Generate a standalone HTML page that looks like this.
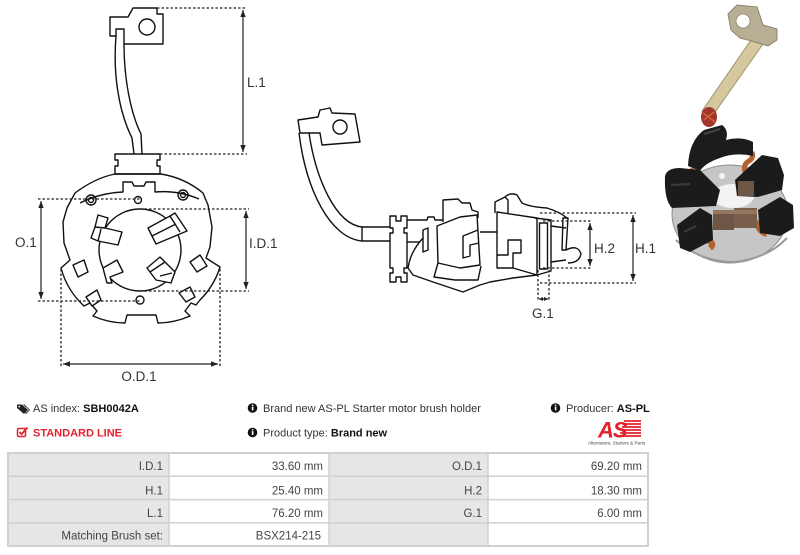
<!DOCTYPE html>
<html><head><meta charset="utf-8"><style>
html,body{margin:0;padding:0;background:#fff;}
body{width:800px;height:555px;overflow:hidden;position:relative;font-family:"Liberation Sans",Arial,sans-serif;}
svg{position:absolute;left:0;top:0;}
</style></head><body>
<svg width="800" height="555" viewBox="0 0 800 555" xmlns="http://www.w3.org/2000/svg">
<defs>
<marker id="ar" markerUnits="userSpaceOnUse" markerWidth="8" markerHeight="6" refX="7" refY="3" orient="auto-start-reverse"><path d="M0,0.3 L7,3 L0,5.7 Z" fill="#222"/></marker>
</defs>

<!-- ================= LEFT DRAWING ================= -->
<g fill="none" stroke="#111" stroke-width="1.4" stroke-linejoin="round">
<path d="M110,17 L128,17 L133,8 L157,8 L157,14 L163,14 L163,44 L124,44 L124,29 L116,29 L116,36 L110,36 Z" fill="#fff"/>
<circle cx="147" cy="27" r="8"/>
<path d="M116,36 C113,72 118,110 132,138 L134,154"/>
<path d="M124,44 C124,80 131,114 141,134 L142,154"/>
<path d="M115,154 H160 V160 H157 V166 H160 V174 H115 V166 H118 V160 H115 Z" fill="#fff"/>
<path d="M115,174 L161,174 Q185,178 203,193 L208,205 L212,227 L210,247 L206,258 L220,267 A80,80 0 0 1 200,300 L196,305 L191,303 L185,311 L190,316 A80,80 0 0 1 158,323 L156,315 L127,315 L125,323 A80,80 0 0 1 93,316 L97,311 L90,303 L84,306 A80,80 0 0 1 61,268 L70,260 L64,243 L63,222 L67,208 L75,193 Q95,178 115,174 Z"/>
<path d="M80,203 Q100,193 123,192 V182 H132 L134,186 H144 L146,182 H155 V192 Q178,190 199,199"/>
<circle cx="91" cy="200" r="5"/><circle cx="91" cy="200" r="2.5"/>
<circle cx="183" cy="195" r="5"/><circle cx="183" cy="195" r="2.5"/>
<circle cx="138" cy="200" r="3.5"/>
<circle cx="140" cy="300" r="4"/>
<circle cx="140" cy="250" r="41"/>
<path d="M98,215 L108,218 L105,228 L122,232 L118,245 L98,241 L91,238 L95,227 Z" fill="#fff"/>
<path d="M95,227 L105,228 M101,229 L98,241"/>
<path d="M148,228 L170,216 L175,213 L187,231 L156,244 Z" fill="#fff"/>
<path d="M152,236 L176,224 M170,216 L180,232"/>
<path d="M103,268 L117,260 L123,272 L110,277 L112,283 L107,283 Z" fill="#fff"/>
<path d="M147,268 L160,257 L175,272 L171,283 L156,280 Z" fill="#fff"/>
<path d="M150,272 L165,262 M160,276 L172,273"/>
<path d="M73,265 L84,260 L88,272 L78,277 Z" fill="#fff"/>
<path d="M190,262 L200,255 L207,266 L197,272 Z" fill="#fff"/>
<path d="M86,297 L97,290 L101,300 L92,306 Z" fill="#fff"/>
<path d="M179,293 L190,287 L195,297 L186,302 Z" fill="#fff"/>
</g>
<!-- left dims -->
<g stroke="#222" stroke-width="1.3" stroke-dasharray="2.5 2" fill="none">
<path d="M157,8 H247 M160,154 H247"/>
<path d="M38,199 H140 M38,301 H140"/>
<path d="M140,209 H249 M140,291 H249"/>
<path d="M61,269 V367 M220,269 V367"/>
</g>
<g stroke="#222" stroke-width="1.2" fill="none">
<path d="M243,10 V152" marker-start="url(#ar)" marker-end="url(#ar)"/>
<path d="M41,201 V299" marker-start="url(#ar)" marker-end="url(#ar)"/>
<path d="M246,211 V289" marker-start="url(#ar)" marker-end="url(#ar)"/>
<path d="M63,364 H218" marker-start="url(#ar)" marker-end="url(#ar)"/>
</g>
<g font-family="Liberation Sans, Arial, sans-serif" font-size="13.5" fill="#333">
<text x="247" y="87">L.1</text>
<text x="15" y="247">O.1</text>
<text x="249" y="248">I.D.1</text>
<text x="139" y="381" text-anchor="middle">O.D.1</text>
</g>

<!-- ================= MIDDLE DRAWING ================= -->
<g fill="none" stroke="#111" stroke-width="1.4" stroke-linejoin="round">
<path d="M298,120 L318,117 L320,110 L330,108 L332,113 L355,114 L360,142 L322,145 L320,133 L300,133 Z" fill="#fff"/>
<circle cx="340" cy="127" r="7"/>
<path d="M299,133 C306,190 330,238 362,241"/>
<path d="M309,133 C316,180 336,224 362,227"/>
<path d="M362,227 H390 M362,241 H390 M362,227 V241"/>
<path d="M390,216 H396 V221 H401 V216 H407 V228 H404 V233 H407 V268 H404 V273 H407 V282 H401 V277 H396 V282 H390 V273 H393 V268 H390 V233 H393 V228 H390 Z" fill="#fff"/>
<path d="M407,220 L427,220 L428,217 L434,217 L435,220 L443,220"/>
<path d="M407,242 L420,242"/>
<path d="M423,238 Q412,250 409,263 L408,268 L413,275 L433,282 L463,292 L480,285 L490,282 L513,278 L537,275"/>
<path d="M423,230 L428,228 L428,250 L423,252 Z"/>
<path d="M443,222 V200 L458,199 L462,203 L470,203 L472,210 L478,212 V218"/>
<path d="M437,226 L460,217 L477,215 L480,265 L460,268 L438,263 Z" fill="#fff"/>
<path d="M478,230 L463,236 V258 L470,256 V245 L479,243"/>
<path d="M438,263 L434,277 L455,280 L478,280 L481,266"/>
<path d="M480,232 H497"/>
<path d="M495,213 V202 L505,197 L508,200 V213"/>
<path d="M505,197 Q510,192 517,195 L522,203 Q530,207 547,208 Q560,212 567,218"/>
<path d="M497,212 L537,218 L537,275 L513,268 L513,253 L521,253 L521,240 L508,240 L508,255 L497,255 Z" fill="#fff"/>
<path d="M497,255 L497,268 L513,268"/>
<path d="M535,218 L551,220 L551,271 L537,275"/>
<rect x="539.5" y="223" width="8" height="46"/>
<path d="M551,226 L566,228 M551,262 L566,260"/>
<path d="M563,218 L568,218 L566,250 L562,250 Z"/>
<path d="M566,250 Q578,244 581,254 Q579,263 568,263"/>
</g>
<g stroke="#222" stroke-width="1.3" stroke-dasharray="2.5 2" fill="none">
<path d="M540,213 H636 M540,283 H636"/>
<path d="M543,221 H592 M543,268 H592"/>
<path d="M538,270 V301 M549,270 V301"/>
</g>
<g stroke="#222" stroke-width="1.2" fill="none">
<path d="M633,215 V281" marker-start="url(#ar)" marker-end="url(#ar)"/>
<path d="M590,223 V266" marker-start="url(#ar)" marker-end="url(#ar)"/>
<path d="M539,299 H548"/>
</g>
<path d="M539,299 L543,297 L543,301 Z M548,299 L544,297 L544,301 Z" fill="#222"/>
<g font-family="Liberation Sans, Arial, sans-serif" font-size="13.5" fill="#333">
<text x="594" y="253">H.2</text>
<text x="635" y="253">H.1</text>
<text x="532" y="318">G.1</text>
</g>

<!-- ================= PHOTO ================= -->
<g>
<ellipse cx="730" cy="214" rx="58" ry="49" fill="#c6c6c6" stroke="#8c8c8c" stroke-width="1"/>
<ellipse cx="733" cy="196" rx="21" ry="12" fill="#f3f3f3"/>
<circle cx="722" cy="176" r="3" fill="#f3f3f3"/>
<path d="M676,240 Q700,262 735,262 Q768,258 787,238" fill="none" stroke="#9a9a9a" stroke-width="2"/>
<!-- copper wires -->
<path d="M705,223 q6,4 2,9 q-5,5 2,9 q6,3 1,7" fill="none" stroke="#b4622e" stroke-width="6"/>
<path d="M748,218 q8,2 10,8 q2,6 9,8" fill="none" stroke="#b4622e" stroke-width="6"/>
<path d="M745,172 q-2,-8 4,-11 q5,-3 3,-9" fill="none" stroke="#b4622e" stroke-width="5"/>
<path d="M690,170 q8,2 10,7 q2,4 7,6" fill="none" stroke="#b4622e" stroke-width="5"/>
<!-- brushes -->
<rect x="713" y="210" width="21" height="20" fill="#6e5646"/>
<rect x="734" y="208" width="23" height="20" fill="#7a5e4c"/>
<rect x="713" y="210" width="44" height="4" fill="#94775f"/>
<!-- black boxes -->
<path d="M665,176 Q667,168 680,168 L700,170 L720,190 L716,206 L672,208 Q664,200 665,176 Z" fill="#1b1b1b"/>
<path d="M671,185 L690,184" stroke="#3c3c3c" stroke-width="2"/>
<path d="M735,180 L762,155 L778,158 L784,175 L782,190 L758,197 L737,196 Z" fill="#1b1b1b"/>
<rect x="738" y="181" width="16" height="15" fill="#6e5646"/>
<path d="M677,225 L700,208 L712,215 L713,240 L690,252 L680,248 Z" fill="#1b1b1b"/>
<path d="M684,232 L696,226" stroke="#3c3c3c" stroke-width="2"/>
<path d="M758,210 L780,197 L793,205 L794,228 L780,236 L760,233 Z" fill="#1b1b1b"/>
<path d="M688,166 Q689,141 704,130 L722,125 Q729,130 726,140 Q741,136 753,142 L753,156 Q735,152 720,158 Q705,163 700,171 Z" fill="#1c1c1c"/>
<path d="M704,134 L720,129" stroke="#444" stroke-width="2"/>
<!-- lead wire -->
<path d="M751,40 L763,44 L713,115 L702,111 Z" fill="#d5c89f" stroke="#a3956b" stroke-width="1"/>
<ellipse cx="709" cy="117" rx="8" ry="10" fill="#a3362c"/>
<path d="M703,113 L715,122 M704,120 L714,112" stroke="#d0643a" stroke-width="1.5"/>
<!-- terminal -->
<path d="M728,14 L737,5 L757,7 L763,25 L777,29 L777,40 L768,46 L752,41 L740,38 L731,30 Z" fill="#b8ae94" stroke="#8e846c" stroke-width="1"/>
<circle cx="743" cy="21" r="7" fill="#fff" stroke="#8e846c" stroke-width="0.8"/>
</g>

<!-- ================= INFO ================= -->
<g font-family="Liberation Sans, Arial, sans-serif" font-size="11" fill="#333">
<!-- tag icon -->
<path d="M17,404.5 L22,404.5 L28,410 L24,414 L17,408 Z" fill="#222"/>
<path d="M23,404.5 L24.5,404.5 L30,410 L26,414 L25.3,413.3 L29,410 Z" fill="#222"/>
<circle cx="19.3" cy="406.6" r="0.9" fill="#fff"/>
<text x="33" y="412">AS index: <tspan font-weight="bold" fill="#111">SBH0042A</tspan></text>
<!-- check icon -->
<rect x="17.5" y="428.5" width="8" height="8" rx="1.2" fill="none" stroke="#e3202c" stroke-width="1.5"/>
<path d="M19.5,432 L21.5,434.2 L27.5,427.5" fill="none" stroke="#e3202c" stroke-width="1.8"/>
<text x="33" y="436.5" font-weight="bold" fill="#e3202c">STANDARD LINE</text>
<!-- info icons -->
<circle cx="252.5" cy="408" r="4.8" fill="#111"/>
<rect x="251.8" y="406.6" width="1.6" height="3.8" fill="#fff"/><rect x="251.8" y="404.6" width="1.6" height="1.3" fill="#fff"/>
<text x="263" y="412">Brand new AS-PL Starter motor brush holder</text>
<circle cx="252.5" cy="432.5" r="4.8" fill="#111"/>
<rect x="251.8" y="431.1" width="1.6" height="3.8" fill="#fff"/><rect x="251.8" y="429.1" width="1.6" height="1.3" fill="#fff"/>
<text x="263" y="436.5">Product type: <tspan font-weight="bold" fill="#111">Brand new</tspan></text>
<circle cx="555.5" cy="408" r="4.8" fill="#111"/>
<rect x="554.8" y="406.6" width="1.6" height="3.8" fill="#fff"/><rect x="554.8" y="404.6" width="1.6" height="1.3" fill="#fff"/>
<text x="566" y="412">Producer: <tspan font-weight="bold" fill="#111">AS-PL</tspan></text>
</g>
<!-- AS logo -->
<g>
<path d="M624,421 H641 M623,424 H641 M622,427 H641 M621,430 H641 M620,433 H641 M619,436 H641" stroke="#e3202c" stroke-width="1.8"/>
<text x="598" y="437.5" font-family="Liberation Sans, Arial, sans-serif" font-size="22" font-weight="bold" font-style="italic" fill="#e3202c" letter-spacing="-1">AS</text>
<text x="588" y="444.5" font-family="Liberation Sans, Arial, sans-serif" font-size="4.6" fill="#444">Alternators, Starters &amp; Parts</text>
</g>

<!-- ================= TABLE ================= -->
<g>
<rect x="8" y="453" width="161" height="93" fill="#e6e6e6"/>
<rect x="169" y="453" width="160" height="93" fill="#fff"/>
<rect x="329" y="453" width="159" height="93" fill="#e6e6e6"/>
<rect x="488" y="453" width="160" height="93" fill="#fff"/>
<g stroke="#d0d0d0" stroke-width="1.5" fill="none">
<path d="M8,476.3 H648 M8,499.6 H648 M8,522.9 H648"/>
<path d="M169,453 V546 M329,453 V546 M488,453 V546"/>
<rect x="8" y="453" width="640" height="93" stroke-width="2"/>
</g>
<g font-family="Liberation Sans, Arial, sans-serif" font-size="11.5" fill="#444" text-anchor="end">
<text x="163" y="470">I.D.1</text>
<text x="323" y="470">33.60 mm</text>
<text x="482" y="470">O.D.1</text>
<text x="642" y="470">69.20 mm</text>
<text x="163" y="494.5">H.1</text>
<text x="323" y="494.5">25.40 mm</text>
<text x="482" y="494.5">H.2</text>
<text x="642" y="494.5">18.30 mm</text>
<text x="163" y="517">L.1</text>
<text x="323" y="517">76.20 mm</text>
<text x="482" y="517">G.1</text>
<text x="642" y="517">6.00 mm</text>
<text x="163" y="539.5">Matching Brush set:</text>
<text x="321" y="539.5">BSX214-215</text>
</g>
</g>
</svg>
</body></html>
